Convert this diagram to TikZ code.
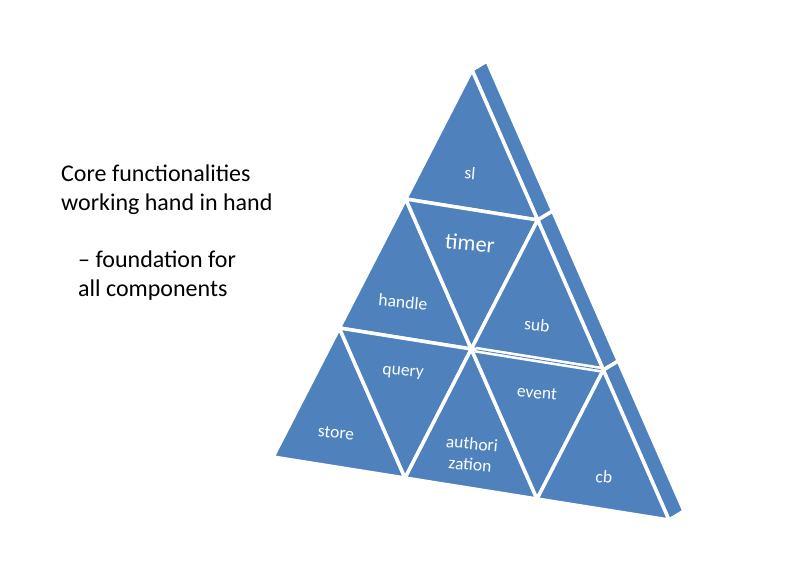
\documentclass[tikz,border=0pt]{standalone}
\usepackage{fontspec}
\setmainfont{Carlito}
\usepackage{tikz}
\usetikzlibrary{calc}

\definecolor{faceblue}{RGB}{79,129,189}

\begin{document}
\begin{tikzpicture}[
    x=1pt,
    y=-1pt,
    face/.style={fill=faceblue, draw=white, line width=3.5pt, line join=miter},
    blocklabel/.style={text=white, inner sep=0pt, rotate=-5, align=center,
        font=\fontsize{17.5}{21}\selectfont},
    notetext/.style={anchor=base west, inner sep=0pt,
        font=\fontsize{24}{29}\selectfont}
]
\useasboundingbox (0,0) rectangle (794,580);


% Grid points of the front face
\coordinate (p00) at (472,70);
\coordinate (p10) at (405.7,199);
\coordinate (p11) at (537.7,220);
\coordinate (p20) at (339.3,328);
\coordinate (p21) at (471.3,349);
\coordinate (p22) at (603.3,370);
\coordinate (p30) at (273,457);
\coordinate (p31) at (405,478);
\coordinate (p32) at (537,499);
\coordinate (p33) at (669,520);


% Side strip
\coordinate (depth) at (15,-9);
\fill[face] (p00) -- (p11) -- ($(p11)+(depth)$) -- ($(p00)+(depth)$) -- cycle;
\fill[face] (p11) -- (p22) -- ($(p22)+(depth)$) -- ($(p11)+(depth)$) -- cycle;
\fill[face] (p22) -- (p33) -- ($(p33)+(depth)$) -- ($(p22)+(depth)$) -- cycle;


% Row 1
\filldraw[face] (p00) -- (p10) -- (p11) -- cycle;


% Row 2
\filldraw[face] (p10) -- (p20) -- (p21) -- cycle;
\filldraw[face] (p10) -- (p11) -- (p21) -- cycle;
\filldraw[face] (p11) -- (p21) -- (p22) -- cycle;


% Row 3
\filldraw[face] (p20) -- (p30) -- (p31) -- cycle;
\filldraw[face] (p20) -- (p21) -- (p31) -- cycle;
\filldraw[face] (p21) -- (p31) -- (p32) -- cycle;
\filldraw[face] (p21) -- (p22) -- (p32) -- cycle;
\filldraw[face] (p22) -- (p32) -- (p33) -- cycle;

% split seam between sub and event
\draw[white, line width=6pt] ($(p21)!0.03!(p22)$) -- (p22);
\draw[faceblue, line width=0.8pt] ($(p21)!0.04!(p22)$) -- ($(p21)!0.98!(p22)$);


% Labels
\node[blocklabel] (sl) at (470,173) {sl};
\node[blocklabel, font=\fontsize{22.5}{26}\selectfont] (timer) at (470,243) {timer};
\node[blocklabel] (handle) at (403,302) {handle};
\node[blocklabel] (sub) at (537,325) {sub};
\node[blocklabel] (query) at (403,373) {query};
\node[blocklabel] (event) at (537,393) {event};
\node[blocklabel] (store) at (336,433) {store};
\node[blocklabel] (auth) at (471,454) {authori\\zation};
\node[blocklabel] (cb) at (604,477) {cb};


% Note
\node[notetext] (core1) at (61,181) {Core functionalities};
\node[notetext] (core2) at (61,210) {working hand in hand};
\node[notetext] (found1) at (78,267) {– foundation for};
\node[notetext] (found2) at (78,296) {all components};


\end{tikzpicture}
\end{document}
